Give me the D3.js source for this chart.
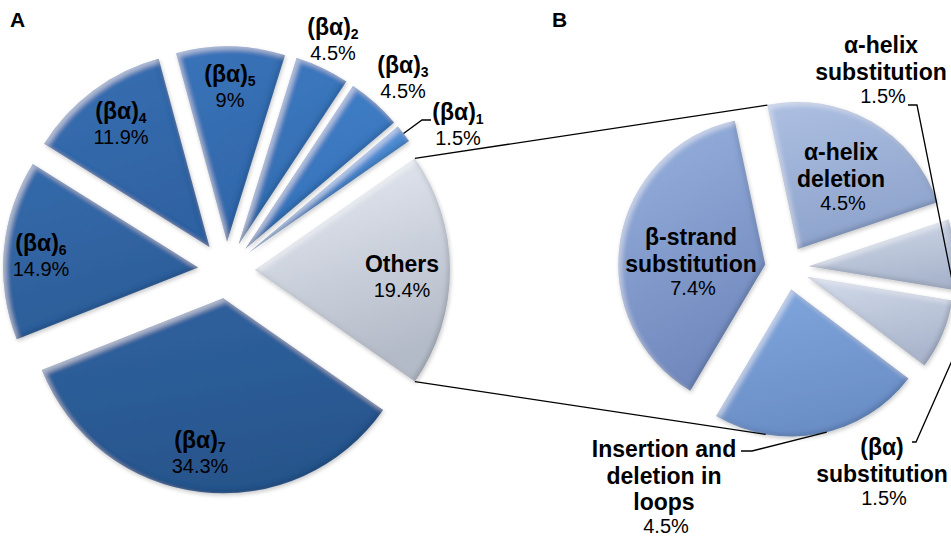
<!DOCTYPE html>
<html>
<head>
<meta charset="utf-8">
<script src="https://cdn.jsdelivr.net/npm/d3@7/dist/d3.min.js"></script>
<style>
  html, body { margin: 0; padding: 0; background: #fff; }
  svg { display: block; font-family: "Liberation Sans", Arial, sans-serif; }
</style>
</head>
<body>
<svg id="chart" width="951" height="540"></svg>
<script>
// ---- data ---------------------------------------------------------------
// Primary pie (A), clockwise from the combined "Others" slice
const primaryNames  = ["Others", "(βα)", "(βα)", "(βα)", "(βα)", "(βα)", "(βα)", "(βα)"];
const primarySubs   = ["", "7", "6", "4", "5", "2", "3", "1"];
const primaryValues = [19.4, 34.3, 14.9, 11.9, 9, 4.5, 4.5, 1.5];

// Secondary pie (B): breakdown of "Others", clockwise from the top
const secondaryNames  = ["α-helix deletion", "α-helix substitution", "(βα) substitution",
                         "Insertion and deletion in loops", "β-strand substitution"];
const secondaryLines  = [["α-helix", "deletion"], ["α-helix", "substitution"], ["(βα)", "substitution"],
                         ["Insertion and", "deletion in", "loops"], ["β-strand", "substitution"]];
const secondaryValues = [4.5, 1.5, 1.5, 4.5, 7.4];

// ---- layout & style -----------------------------------------------------
const deg = Math.PI / 180;
const A = { cx: 226.5, cy: 270, r: 195, explode: 28.5 };
const B = { cx: 787, cy: 268, r: 147, explode: 22 };

const primaryColors = [
  ["#e9edf5", "#b4bbc8"],   // Others
  ["#2f62a0", "#28558c"],   // 7
  ["#346aab", "#2d5e99"],   // 6
  ["#376fb2", "#2f62a2"],   // 4
  ["#3a73b9", "#3167aa"],   // 5
  ["#3d79c0", "#336cb0"],   // 2
  ["#4280c8", "#3571b8"],   // 3
  ["#5591d8", "#4381c8"]    // 1
];
const secondaryColors = [
  ["#adc0e2", "#8ea3cc"],   // α-helix deletion
  ["#d3dbea", "#aab6cd"],   // α-helix substitution
  ["#d3dbea", "#aab6cd"],   // (βα) substitution
  ["#80a7de", "#6a8ec6"],   // insertion/deletion loops
  ["#97b1de", "#7189bd"]    // β-strand substitution
];

// label anchors (centre x, first baseline)
const primaryLabelPos = [
  [402, 272], [200, 448], [41, 251], [121, 119], [230, 82], [333, 35], [403, 73], [458, 120]
];
const secondaryLabelPos = [
  [841, 160], [881, 53], [882, 455], [664, 457], [691, 245]
];

const svg = d3.select("#chart");
const defs = svg.append("defs");

// soft bevel: light rim on upper-left edges, dark rim on lower-right edges, faint drop shadow
const bevel = defs.append("filter").attr("id", "bevel")
  .attr("x", "-10%").attr("y", "-10%").attr("width", "120%").attr("height", "120%");
bevel.append("feGaussianBlur").attr("in", "SourceAlpha").attr("stdDeviation", 2.5).attr("result", "b");
bevel.append("feOffset").attr("in", "b").attr("dx", 2.5).attr("dy", 2.5).attr("result", "bo1");
bevel.append("feComposite").attr("in", "SourceAlpha").attr("in2", "bo1").attr("operator", "out").attr("result", "hiMask");
bevel.append("feFlood").attr("flood-color", "#ffffff").attr("flood-opacity", 0.45).attr("result", "white");
bevel.append("feComposite").attr("in", "white").attr("in2", "hiMask").attr("operator", "in").attr("result", "hi");
bevel.append("feOffset").attr("in", "b").attr("dx", -2.5).attr("dy", -2.5).attr("result", "bo2");
bevel.append("feComposite").attr("in", "SourceAlpha").attr("in2", "bo2").attr("operator", "out").attr("result", "loMask");
bevel.append("feFlood").attr("flood-color", "#0a1a33").attr("flood-opacity", 0.35).attr("result", "dark");
bevel.append("feComposite").attr("in", "dark").attr("in2", "loMask").attr("operator", "in").attr("result", "lo");
bevel.append("feGaussianBlur").attr("in", "SourceAlpha").attr("stdDeviation", 2).attr("result", "sh");
bevel.append("feOffset").attr("in", "sh").attr("dx", 1).attr("dy", 2).attr("result", "sho");
bevel.append("feComponentTransfer").attr("in", "sho").attr("result", "shf")
  .append("feFuncA").attr("type", "linear").attr("slope", 0.22);
const merge = bevel.append("feMerge");
merge.append("feMergeNode").attr("in", "shf");
merge.append("feMergeNode").attr("in", "SourceGraphic");
merge.append("feMergeNode").attr("in", "hi");
merge.append("feMergeNode").attr("in", "lo");

function gradient(id, c) {
  const g = defs.append("linearGradient").attr("id", id)
    .attr("x1", 0).attr("y1", 0).attr("x2", 0.3).attr("y2", 1);
  g.append("stop").attr("offset", "0%").attr("stop-color", c[0]);
  g.append("stop").attr("offset", "100%").attr("stop-color", c[1]);
}

const dir = a => [Math.sin(a), -Math.cos(a)];

// ---- primary pie --------------------------------------------------------
const othersAngle = primaryValues[0] / d3.sum(primaryValues) * 2 * Math.PI;
const pieA = d3.pie().sort(null).value(d => d)
  .startAngle(Math.PI / 2 - othersAngle / 2)
  .endAngle(Math.PI / 2 - othersAngle / 2 + 2 * Math.PI);
const arcsA = pieA(primaryValues);
const arcA = d3.arc().innerRadius(0).outerRadius(A.r);

const apexA = d => {
  const m = (d.startAngle + d.endAngle) / 2, v = dir(m);
  return [A.cx + A.explode * v[0], A.cy + A.explode * v[1]];
};
const onArcA = (d, ang) => { const p = apexA(d), v = dir(ang); return [p[0] + A.r * v[0], p[1] + A.r * v[1]]; };

primaryColors.forEach((c, i) => gradient("ga" + i, c));
svg.append("g").selectAll("path").data(arcsA).join("path")
  .attr("transform", d => `translate(${apexA(d)})`)
  .attr("d", arcA)
  .attr("fill", (d, i) => `url(#ga${i})`)
  .attr("filter", "url(#bevel)");

// ---- secondary pie ------------------------------------------------------
const startB = -12 * deg;
const pieB = d3.pie().sort(null).value(d => d).startAngle(startB).endAngle(startB + 2 * Math.PI);
const arcsB = pieB(secondaryValues);
const arcB = d3.arc().innerRadius(0).outerRadius(B.r);
const apexB = d => {
  const m = (d.startAngle + d.endAngle) / 2, v = dir(m);
  return [B.cx + B.explode * v[0], B.cy + B.explode * v[1]];
};
const onArcB = (d, ang) => { const p = apexB(d), v = dir(ang); return [p[0] + B.r * v[0], p[1] + B.r * v[1]]; };

secondaryColors.forEach((c, i) => gradient("gb" + i, c));
svg.append("g").selectAll("path").data(arcsB).join("path")
  .attr("transform", d => `translate(${apexB(d)})`)
  .attr("d", arcB)
  .attr("fill", (d, i) => `url(#gb${i})`)
  .attr("filter", "url(#bevel)");

// ---- connector lines between the two pies -------------------------------
const others = arcsA[0];
const line = d3.line();
const lines = svg.append("g").attr("fill", "none").attr("stroke", "#000").attr("stroke-width", 1.3);
lines.append("path").attr("d", line([onArcA(others, others.startAngle), onArcB(arcsB[0], arcsB[0].startAngle)]));
lines.append("path").attr("d", line([onArcA(others, others.endAngle), onArcB(arcsB[3], 190 * deg)]));

// leader lines for labels placed outside their slices
const a1 = arcsA[7];
lines.append("path").attr("d", line([onArcA(a1, (a1.startAngle + a1.endAngle) / 2), [422, 120], [431, 120]]));
lines.append("path").attr("d", line([[908, 105], [917, 105], [956, 300]]));
lines.append("path").attr("d", line([[912, 442], [916, 442], [954, 356]]));
lines.append("path").attr("d", line([[741, 451], [752, 451], onArcB(arcsB[3], 166 * deg)]));

// ---- labels -------------------------------------------------------------
const boldSize = 23, pctSize = 20;
const fmt = v => `${v}%`;

const labA = svg.append("g").attr("text-anchor", "middle").attr("fill", "#000");
arcsA.forEach((d, i) => {
  const [x, y] = primaryLabelPos[i];
  const t = labA.append("text").attr("x", x).attr("y", y)
    .attr("font-weight", "bold").attr("font-size", boldSize);
  t.append("tspan").text(primaryNames[i]);
  if (primarySubs[i]) t.append("tspan").attr("font-size", 14).attr("dy", 3.5).text(primarySubs[i]);
  labA.append("text").attr("x", x).attr("y", y + 25).attr("font-size", pctSize).text(fmt(primaryValues[i]));
});

const labB = svg.append("g").attr("text-anchor", "middle").attr("fill", "#000");
arcsB.forEach((d, i) => {
  const [x, y] = secondaryLabelPos[i];
  const ls = secondaryLines[i];
  ls.forEach((s, k) => {
    labB.append("text").attr("x", x).attr("y", y + k * 26.5)
      .attr("font-weight", "bold").attr("font-size", boldSize).text(s);
  });
  labB.append("text").attr("x", x + 2).attr("y", y + (ls.length - 1) * 26.5 + 23)
    .attr("font-size", pctSize).text(fmt(secondaryValues[i]));
});

// panel letters
svg.append("text").attr("x", 10).attr("y", 27).attr("font-weight", "bold").attr("font-size", 21).text("A");
svg.append("text").attr("x", 552).attr("y", 27).attr("font-weight", "bold").attr("font-size", 21).text("B");
</script>
</body>
</html>
